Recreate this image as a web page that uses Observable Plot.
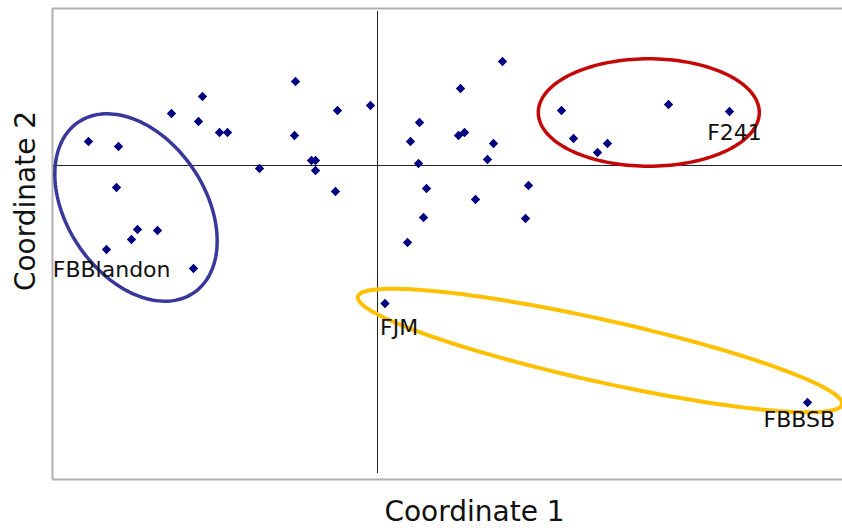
<!DOCTYPE html>
<html>
<head>
<meta charset="utf-8">
<script src="https://cdn.jsdelivr.net/npm/d3@7"></script>
<script src="https://cdn.jsdelivr.net/npm/@observablehq/plot@0.6"></script>
<style>
  html, body { margin: 0; padding: 0; background: #fff; }
  #chart svg { display: block; }
</style>
</head>
<body>
<div id="chart"></div>
<script>
// ---- data ----
const coord1 = [-0.289,-0.259,-0.261,-0.240,-0.246,-0.220,-0.271,-0.184,-0.206,-0.175,
  -0.179,-0.158,-0.150,-0.118,-0.082,-0.083,-0.066,-0.062,-0.062,-0.040,
  -0.042,-0.007,0.042,0.033,0.041,0.049,0.046,0.030,0.125,0.083,
  0.081,0.087,0.116,0.110,0.151,0.098,0.148,0.184,0.196,0.220,
  0.230,0.291,0.352,0.0075,0.430];
const coord2 = [0.024,0.019,-0.022,-0.064,-0.074,-0.065,-0.084,-0.103,0.052,0.069,
  0.044,0.033,0.033,-0.003,0.084,0.030,0.005,0.005,-0.005,0.055,
  -0.026,0.060,0.043,0.024,0.002,-0.023,-0.052,-0.077,0.104,0.077,
  0.030,0.033,0.022,0.006,-0.020,-0.034,-0.053,0.055,0.027,0.013,
  0.022,0.061,0.054,-0.138,-0.237];

const labelNames = ["FBBlandon", "F241", "FJM", "FBBSB"];
const labelCoord1 = [-0.184, 0.352, 0.0075, 0.430];
const labelCoord2 = [-0.103, 0.054, -0.138, -0.237];

// group ellipses: centre, semi-axes, rotation (degrees, data space)
const groupNames = ["blue", "red", "yellow"];
const groupCx = [-0.2415, 0.2713, 0.2225];
const groupCy = [-0.042, 0.053, -0.185];
const groupA = [0.103, 0.1105, 0.248];
const groupB = [0.069, 0.0537, 0.031];
const groupAngle = [-56, 0, -12.55];

const xDomain = [-0.325, 0.465];
const yDomain = [-0.314, 0.157];

const axisTitles = ["Coordinate 1", "Coordinate 2"];

// ---- styles ----
const groupColors = ["#38389a", "#c40808", "#ffc000"];
const groupWidths = [3.5, 3.5, 4];
const labelStyle = [
  {textAnchor: "end", dx: -23, dy: 1.5},
  {textAnchor: "middle", dx: 5, dy: 21},
  {textAnchor: "start", dx: -5, dy: 24},
  {textAnchor: "start", dx: -44, dy: 17.5}
];

const points = coord1.map((x, i) => ({x, y: coord2[i]}));
const labels = labelNames.map((name, i) => ({name, x: labelCoord1[i], y: labelCoord2[i]}));

function outline(cx, cy, a, b, deg) {
  const t = deg * Math.PI / 180, pts = [];
  for (let k = 0; k < 160; k++) {
    const u = 2 * Math.PI * k / 160;
    const ex = a * Math.cos(u), ey = b * Math.sin(u);
    pts.push({x: cx + ex * Math.cos(t) - ey * Math.sin(t), y: cy + ex * Math.sin(t) + ey * Math.cos(t)});
  }
  return pts;
}

const marks = [
  Plot.ruleX([xDomain[0]], {stroke: "#b0b0b0", strokeWidth: 2}),
  Plot.ruleY([yDomain[1]], {stroke: "#b0b0b0", strokeWidth: 2}),
  Plot.ruleY([yDomain[0]], {stroke: "#b0b0b0", strokeWidth: 2}),
  Plot.ruleX([0], {stroke: "#222", strokeWidth: 1, insetTop: 3, insetBottom: 6}),
  Plot.ruleY([0], {stroke: "#222", strokeWidth: 1, insetLeft: 1})
];
groupNames.forEach((g, i) => {
  marks.push(Plot.line(outline(groupCx[i], groupCy[i], groupA[i], groupB[i], groupAngle[i]),
    {x: "x", y: "y", curve: "linear-closed", stroke: groupColors[i], strokeWidth: groupWidths[i]}));
});
marks.push(Plot.dot(points, {x: "x", y: "y", symbol: "diamond2", r: 4.2, fill: "#00007f", stroke: "none"}));
labels.forEach((d, i) => {
  marks.push(Plot.text([d], {x: "x", y: "y", text: "name", fill: "#111", fontSize: 22, lineAnchor: "middle", ...labelStyle[i]}));
});
marks.push(Plot.text([axisTitles[0]], {frameAnchor: "bottom", text: d => d, fontSize: 28, fill: "#111",
  textAnchor: "middle", lineAnchor: "middle", dx: 27, dy: 33}));
marks.push(Plot.text([axisTitles[1]], {frameAnchor: "left", text: d => d, fontSize: 28, fill: "#111",
  textAnchor: "middle", lineAnchor: "middle", rotate: -90, dx: -26, dy: -43}));

const chart = Plot.plot({
  width: 842,
  height: 528,
  marginLeft: 52,
  marginRight: 0,
  marginTop: 8,
  marginBottom: 49,
  x: {domain: xDomain, axis: null},
  y: {domain: yDomain, axis: null},
  style: {fontFamily: "'DejaVu Sans', Verdana, sans-serif", background: "#fff", overflow: "visible"},
  marks
});
document.getElementById("chart").appendChild(chart);
</script>
</body>
</html>
